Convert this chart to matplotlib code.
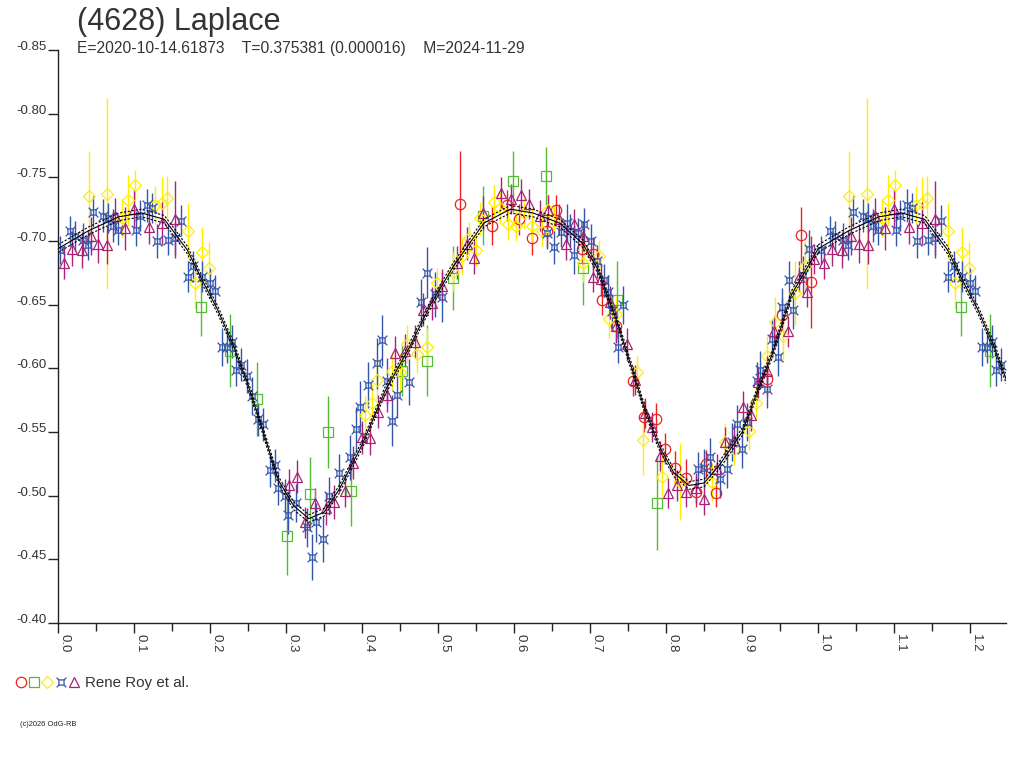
import numpy as np
import matplotlib
matplotlib.use('Agg')
import matplotlib.pyplot as plt
from matplotlib.path import Path
from matplotlib.lines import Line2D
from matplotlib.legend_handler import HandlerTuple

plt.rcParams['font.family'] = ['Liberation Sans', 'DejaVu Sans']

title = '(4628) Laplace'
subtitle = 'E=2020-10-14.61873    T=0.375381 (0.000016)    M=2024-11-29'
observer = 'Rene Roy et al.'
credit = '(c)2026 OdG-RB'

#%% observations (phase, reduced mag, error)
red_phase = [0.529, 0.571, 0.590, 0.607, 0.623, 0.643, 0.655, 0.689, 0.704, 0.716,
             0.734, 0.757, 0.771, 0.786, 0.799, 0.812, 0.826, 0.839, 0.853, 0.866,
             0.932, 0.952, 0.977, 0.991]
red_mag = [-0.729, -0.712, -0.728, -0.717, -0.702, -0.708, -0.724, -0.694, -0.690, -0.654,
           -0.633, -0.590, -0.562, -0.560, -0.537, -0.522, -0.514, -0.503, -0.525, -0.502,
           -0.592, -0.642, -0.705, -0.668]
red_err = [0.042, 0.015, 0.012, 0.012, 0.013, 0.013, 0.012, 0.012, 0.013, 0.012,
           0.013, 0.012, 0.012, 0.013, 0.012, 0.013, 0.015, 0.012, 0.011, 0.011,
           0.013, 0.013, 0.022, 0.036]

green_phase = [0.188, 0.226, 0.262, 0.301, 0.332, 0.355, 0.386, 0.452, 0.486, 0.520,
               0.559, 0.599, 0.642, 0.691, 0.735, 0.788]
green_mag = [-0.648, -0.614, -0.576, -0.468, -0.501, -0.550, -0.504, -0.598, -0.606, -0.671,
             -0.720, -0.747, -0.751, -0.679, -0.654, -0.494]
green_err = [0.023, 0.029, 0.029, 0.030, 0.029, 0.028, 0.028, 0.020, 0.028, 0.025,
             0.023, 0.024, 0.023, 0.029, 0.030, 0.037]

yellow_phase = [0.041, 0.064, 0.084, 0.092, 0.101, 0.128, 0.137, 0.143, 0.171, 0.180,
                0.189, 0.198, 0.404, 0.413, 0.420, 0.439, 0.450, 0.459, 0.472, 0.486,
                0.499, 0.520, 0.531, 0.540, 0.550, 0.555, 0.573, 0.582, 0.592, 0.603,
                0.613, 0.623, 0.636, 0.645, 0.652, 0.691, 0.711, 0.725, 0.734, 0.761,
                0.770, 0.794, 0.818, 0.860, 0.878, 0.889, 0.909, 0.918, 0.932, 0.943,
                0.954, 0.970, 0.983]
yellow_mag = [-0.735, -0.737, -0.718, -0.732, -0.744, -0.728, -0.730, -0.734, -0.708, -0.667,
              -0.691, -0.679, -0.563, -0.573, -0.591, -0.598, -0.597, -0.619, -0.611, -0.617,
              -0.667, -0.676, -0.688, -0.702, -0.693, -0.718, -0.731, -0.726, -0.713, -0.712,
              -0.722, -0.712, -0.708, -0.724, -0.716, -0.683, -0.688, -0.639, -0.643, -0.597,
              -0.544, -0.515, -0.511, -0.511, -0.542, -0.537, -0.551, -0.573, -0.610, -0.636,
              -0.625, -0.659, -0.680]
yellow_err = [0.036, 0.075, 0.015, 0.020, 0.012, 0.015, 0.020, 0.017, 0.022, 0.020,
              0.020, 0.020, 0.015, 0.015, 0.015, 0.015, 0.015, 0.015, 0.015, 0.015,
              0.012, 0.015, 0.015, 0.013, 0.013, 0.013, 0.013, 0.013, 0.012, 0.012,
              0.012, 0.013, 0.013, 0.013, 0.012, 0.015, 0.013, 0.015, 0.013, 0.013,
              0.028, 0.015, 0.030, 0.015, 0.015, 0.013, 0.015, 0.012, 0.015, 0.020,
              0.020, 0.025, 0.020]

blue_phase = [0.003, 0.016, 0.022, 0.033, 0.039, 0.046, 0.059, 0.066, 0.072, 0.079,
              0.102, 0.108, 0.117, 0.124, 0.130, 0.145, 0.154, 0.162, 0.171, 0.178,
              0.189, 0.200, 0.206, 0.216, 0.222, 0.229, 0.234, 0.241, 0.248, 0.255,
              0.263, 0.270, 0.279, 0.286, 0.290, 0.299, 0.303, 0.313, 0.327, 0.334,
              0.340, 0.349, 0.357, 0.370, 0.384, 0.392, 0.397, 0.408, 0.420, 0.426,
              0.433, 0.439, 0.446, 0.462, 0.478, 0.486, 0.496, 0.505, 0.643, 0.653,
              0.661, 0.669, 0.674, 0.679, 0.684, 0.692, 0.701, 0.709, 0.718, 0.724,
              0.729, 0.736, 0.743, 0.842, 0.850, 0.858, 0.871, 0.880, 0.886, 0.893,
              0.900, 0.906, 0.919, 0.923, 0.932, 0.939, 0.947, 0.953, 0.962, 0.967,
              0.980, 0.988]
blue_mag = [-0.693, -0.708, -0.704, -0.701, -0.697, -0.723, -0.720, -0.718, -0.712, -0.709,
            -0.709, -0.720, -0.728, -0.726, -0.700, -0.701, -0.702, -0.716, -0.672, -0.680,
            -0.672, -0.667, -0.661, -0.617, -0.617, -0.621, -0.599, -0.603, -0.594, -0.578,
            -0.560, -0.556, -0.520, -0.524, -0.506, -0.500, -0.485, -0.494, -0.475, -0.452,
            -0.479, -0.466, -0.500, -0.518, -0.530, -0.552, -0.570, -0.587, -0.604, -0.622,
            -0.590, -0.559, -0.579, -0.589, -0.652, -0.675, -0.658, -0.656, -0.706, -0.695,
            -0.707, -0.714, -0.708, -0.689, -0.706, -0.713, -0.700, -0.684, -0.669, -0.660,
            -0.645, -0.617, -0.650, -0.521, -0.522, -0.530, -0.513, -0.521, -0.542, -0.556,
            -0.537, -0.558, -0.590, -0.599, -0.584, -0.623, -0.609, -0.648, -0.669, -0.646,
            -0.673, -0.694]
blue_err = [0.011, 0.012, 0.012, 0.013, 0.012, 0.012, 0.013, 0.012, 0.013, 0.012,
            0.013, 0.012, 0.013, 0.012, 0.013, 0.012, 0.013, 0.012, 0.012, 0.012,
            0.012, 0.012, 0.012, 0.015, 0.013, 0.013, 0.013, 0.013, 0.013, 0.015,
            0.013, 0.013, 0.013, 0.013, 0.013, 0.013, 0.015, 0.015, 0.015, 0.018,
            0.015, 0.018, 0.015, 0.015, 0.018, 0.018, 0.020, 0.018, 0.020, 0.020,
            0.018, 0.020, 0.018, 0.018, 0.018, 0.020, 0.018, 0.020, 0.012, 0.013,
            0.012, 0.015, 0.013, 0.015, 0.012, 0.013, 0.013, 0.013, 0.013, 0.013,
            0.013, 0.013, 0.015, 0.013, 0.015, 0.015, 0.015, 0.015, 0.015, 0.015,
            0.015, 0.015, 0.015, 0.015, 0.015, 0.015, 0.015, 0.015, 0.015, 0.015,
            0.015, 0.015]

purple_phase = [0.008, 0.018, 0.031, 0.043, 0.053, 0.065, 0.075, 0.088, 0.100, 0.120,
                0.137, 0.154, 0.304, 0.314, 0.325, 0.338, 0.352, 0.363, 0.378, 0.388,
                0.400, 0.411, 0.421, 0.433, 0.443, 0.457, 0.470, 0.480, 0.492, 0.505,
                0.525, 0.538, 0.547, 0.559, 0.583, 0.596, 0.609, 0.619, 0.634, 0.645,
                0.659, 0.668, 0.679, 0.691, 0.704, 0.714, 0.726, 0.734, 0.748, 0.759,
                0.772, 0.782, 0.792, 0.803, 0.814, 0.826, 0.839, 0.850, 0.867, 0.878,
                0.889, 0.901, 0.911, 0.921, 0.932, 0.942, 0.960, 0.975, 0.985, 0.994]
purple_mag = [-0.683, -0.694, -0.693, -0.704, -0.698, -0.697, -0.720, -0.710, -0.725, -0.711,
              -0.714, -0.717, -0.508, -0.515, -0.479, -0.494, -0.490, -0.495, -0.504, -0.526,
              -0.546, -0.545, -0.566, -0.579, -0.612, -0.614, -0.621, -0.646, -0.651, -0.665,
              -0.683, -0.698, -0.687, -0.722, -0.738, -0.733, -0.736, -0.729, -0.720, -0.724,
              -0.717, -0.698, -0.713, -0.704, -0.672, -0.670, -0.652, -0.633, -0.619, -0.591,
              -0.565, -0.554, -0.531, -0.502, -0.508, -0.503, -0.506, -0.497, -0.521, -0.542,
              -0.544, -0.570, -0.563, -0.589, -0.598, -0.629, -0.629, -0.672, -0.660, -0.686]
purple_err = [0.013, 0.014, 0.014, 0.015, 0.015, 0.015, 0.014, 0.017, 0.015, 0.013,
              0.017, 0.030, 0.013, 0.013, 0.012, 0.012, 0.013, 0.013, 0.013, 0.013,
              0.013, 0.013, 0.013, 0.013, 0.013, 0.013, 0.013, 0.013, 0.013, 0.013,
              0.013, 0.013, 0.013, 0.013, 0.012, 0.012, 0.013, 0.012, 0.012, 0.012,
              0.012, 0.013, 0.012, 0.012, 0.012, 0.013, 0.013, 0.012, 0.013, 0.012,
              0.012, 0.012, 0.012, 0.012, 0.012, 0.012, 0.012, 0.012, 0.012, 0.012,
              0.012, 0.012, 0.012, 0.012, 0.012, 0.012, 0.012, 0.012, 0.012, 0.012]

#%% fitted lightcurve
fit_phase = [0.00, 0.04, 0.08, 0.11, 0.14, 0.17, 0.19, 0.21, 0.23, 0.25,
             0.27, 0.29, 0.31, 0.33, 0.35, 0.37, 0.40, 0.43, 0.46, 0.49,
             0.52, 0.56, 0.595, 0.625, 0.66, 0.69, 0.71, 0.735, 0.757, 0.77,
             0.79, 0.81, 0.83, 0.85, 0.87, 0.90, 0.92, 0.94, 0.965, 1.00]
fit_mag = [-0.694, -0.708, -0.719, -0.722, -0.717, -0.693, -0.669, -0.646, -0.619, -0.587,
           -0.550, -0.512, -0.492, -0.482, -0.487, -0.505, -0.540, -0.582, -0.614, -0.650,
           -0.680, -0.714, -0.725, -0.722, -0.714, -0.698, -0.678, -0.637, -0.596, -0.571,
           -0.540, -0.518, -0.508, -0.510, -0.524, -0.550, -0.582, -0.612, -0.658, -0.694]
fit_band = 0.003

wrap_end = 1.247

series = [
    (red_phase, red_mag, red_err, 'o', '#ee2020', 7.5),
    (green_phase, green_mag, green_err, 's', '#55bb33', 6.5),
    (yellow_phase, yellow_mag, yellow_err, 'D', '#ffee00', 6.0),
    (blue_phase, blue_mag, blue_err, 'cross_box', '#3355aa', 7.0),
    (purple_phase, purple_mag, purple_err, '^', '#aa2277', 7.5),
]

# box with little spurs at the corners
box_verts = [(-0.5, -0.5), (0.5, -0.5), (0.5, 0.5), (-0.5, 0.5), (-0.5, -0.5),
             (-0.5, -0.5), (-0.95, -0.95), (0.5, -0.5), (0.95, -0.95),
             (0.5, 0.5), (0.95, 0.95), (-0.5, 0.5), (-0.95, 0.95)]
box_codes = [Path.MOVETO, Path.LINETO, Path.LINETO, Path.LINETO, Path.CLOSEPOLY,
             Path.MOVETO, Path.LINETO, Path.MOVETO, Path.LINETO,
             Path.MOVETO, Path.LINETO, Path.MOVETO, Path.LINETO]
box_marker = Path(box_verts, box_codes)

fig = plt.figure(figsize=(10.24, 7.68), dpi=100)
ax = fig.add_axes([58/1024, 1 - 623/768, 948/1024, 573/768])

# fit: solid curve with two dashed envelope curves, repeated past phase 1
fp = np.array(fit_phase)
fm = np.array(fit_mag)
for shift in (0.0, 1.0):
    ax.plot(fp + shift, fm, color='black', lw=0.8, zorder=5)
    ax.plot(fp + shift, fm - fit_band, color='black', lw=0.8, ls=(0, (2, 1.5)), zorder=5)
    ax.plot(fp + shift, fm + fit_band, color='black', lw=0.8, ls=(0, (2, 1.5)), zorder=5)

handles = []
for ph, mg, er, mk, col, ms in series:
    ph = np.array(ph)
    mg = np.array(mg)
    er = np.array(er)
    marker = box_marker if mk == 'cross_box' else mk
    # phase 0..1 plus the repeated stretch up to the right edge
    keep = ph + 1 <= wrap_end
    xs = np.concatenate([ph, ph[keep] + 1])
    ys = np.concatenate([mg, mg[keep]])
    es = np.concatenate([er, er[keep]])
    ax.errorbar(xs, ys, yerr=es, fmt='none', ecolor=col, elinewidth=1.0, capsize=0, zorder=3)
    ax.plot(xs, ys, ls='none', marker=marker, ms=ms, mfc='none', mec=col, mew=0.9, zorder=4)
    handles.append(Line2D([], [], ls='none', marker=marker, ms=ms, mfc='none', mec=col, mew=0.9))

ax.set_xlim(0, wrap_end)
ax.set_ylim(-0.40, -0.85)

for s in ['top', 'right']:
    ax.spines[s].set_visible(False)
for s in ['left', 'bottom']:
    ax.spines[s].set_linewidth(1.0)
    ax.spines[s].set_color('#222222')

ax.set_yticks(np.arange(-0.85, -0.39, 0.05))
ax.set_yticklabels(['%.2f' % v for v in np.arange(-0.85, -0.39, 0.05)])
ax.set_xticks(np.arange(0, 1.21, 0.1))
ax.set_xticklabels(['%.1f' % v for v in np.arange(0, 1.21, 0.1)])
ax.set_xticks(np.arange(0.05, 1.25, 0.1), minor=True)

ax.tick_params(axis='y', direction='out', length=7, width=1, pad=1,
               labelsize=9.5, labelcolor='#333333', color='#222222')
ax.tick_params(axis='x', which='major', direction='out', length=7.2, width=1, pad=0.5,
               labelsize=9.5, labelcolor='#333333', color='#222222')
ax.tick_params(axis='x', which='minor', direction='out', length=5.8, width=1, color='#222222')
for lbl in ax.get_yticklabels():
    lbl.set_va('baseline')
for lbl in ax.get_xticklabels():
    lbl.set_rotation(270)
    lbl.set_ha('left')
    lbl.set_va('top')

fig.text(77/1024, 1 - 30/768, title, fontsize=22, color='#333333', va='baseline', ha='left')
fig.text(77/1024, 1 - 53/768, subtitle, fontsize=11.25, color='#333333', va='baseline', ha='left')

fig.legend([tuple(handles)], [observer],
           handler_map={tuple: HandlerTuple(ndivide=None, pad=0.0)},
           loc='center left', bbox_to_anchor=(14/1024, 1 - 683/768), frameon=False,
           handlelength=4.4, handletextpad=0.3, borderpad=0, borderaxespad=0,
           fontsize=10.9, labelcolor='#333333')

fig.text(20/1024, 1 - 725/768, credit, fontsize=5.4, color='#222222', va='center', ha='left')

fig.savefig('out.png', dpi=100)
